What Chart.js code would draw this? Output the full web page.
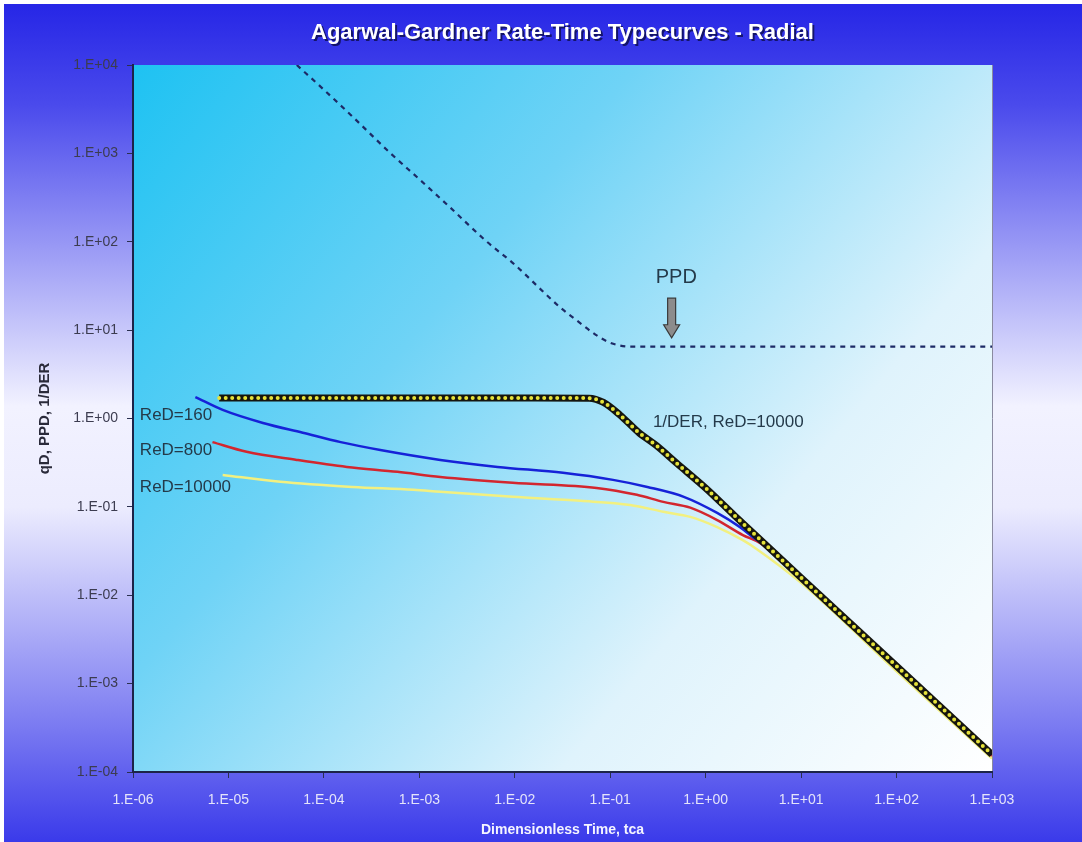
<!DOCTYPE html>
<html>
<head>
<meta charset="utf-8">
<script src="https://cdn.jsdelivr.net/npm/chart.js@4/dist/chart.umd.min.js"></script>
<style>
  body { margin: 0; background: #fff; }
  #wrap { width: 1082px; height: 842px; }
</style>
</head>
<body>
<div id="wrap"><canvas id="typecurves" width="1082" height="842"></canvas></div>
<script>
// values (log-log)
var ppdTime = [5.2e-5, 1e-4, 2e-4, 5e-4, 1e-3, 2e-3, 5e-3, 1e-2, 2e-2, 3e-2, 5e-2, 7e-2, 0.1, 0.16, 0.3, 1, 10, 100, 1000];
var ppdValue = [10000, 5250, 2600, 1000, 510, 257, 102, 55, 27, 18, 11.7, 8.9, 7.2, 6.5, 6.5, 6.5, 6.5, 6.5, 6.5];

var derTime = [8e-6, 1e-5, 1e-4, 1e-3, 1e-2, 6e-2, 8.5e-2, 0.126, 0.2, 0.3, 0.5, 1, 2, 10, 100, 1000];
var derValue = [1.71, 1.71, 1.71, 1.71, 1.71, 1.70, 1.52, 1.1, 0.69, 0.5, 0.31, 0.163, 0.08, 0.0158, 0.00158, 0.000158];

var red160Time = [4.5e-6, 8.7e-6, 2.3e-5, 6e-5, 1.5e-4, 3.9e-4, 1.66e-3, 6.6e-3, 3.2e-2, 0.107, 0.245, 0.59, 1.32, 2.29, 3.47, 4.47, 10, 100, 1000];
var red160Value = [1.75, 1.25, 0.89, 0.69, 0.54, 0.44, 0.34, 0.283, 0.243, 0.202, 0.168, 0.130, 0.0855, 0.059, 0.042, 0.037, 0.0158, 0.00158, 0.000158];

var red800Time = [6.8e-6, 1.55e-5, 5.2e-5, 1.74e-4, 5.9e-4, 1.66e-3, 9.5e-3, 7.2e-2, 0.19, 0.36, 0.69, 1.32, 2.45, 3.7, 10, 100, 1000];
var red800Value = [0.54, 0.42, 0.34, 0.283, 0.249, 0.218, 0.187, 0.164, 0.137, 0.114, 0.098, 0.071, 0.048, 0.039, 0.0152, 0.00152, 0.000152];

var red10000Time = [8.7e-6, 3.5e-5, 2e-4, 8.7e-4, 1.66e-3, 9.5e-3, 4.9e-2, 0.162, 0.36, 0.69, 1.32, 2.45, 3.47, 10, 100, 1000];
var red10000Value = [0.23, 0.192, 0.168, 0.156, 0.148, 0.130, 0.117, 0.105, 0.088, 0.077, 0.059, 0.042, 0.033, 0.0138, 0.00138, 0.000142];

var xTickExp = [-6, -5, -4, -3, -2, -1, 0, 1, 2, 3];
var yTickExp = [-4, -3, -2, -1, 0, 1, 2, 3, 4];

var titleText = 'Agarwal-Gardner Rate-Time Typecurves - Radial';
var xTitle = 'Dimensionless Time, tca';
var yTitle = 'qD, PPD, 1/DER';

// text notes, placed in data units
var notes = [
  { text: 'ReD=160', t: 1.18e-6, v: 1.1, size: 17 },
  { text: 'ReD=800', t: 1.18e-6, v: 0.44, size: 17 },
  { text: 'ReD=10000', t: 1.18e-6, v: 0.168, size: 17 },
  { text: '1/DER, ReD=10000', t: 0.28, v: 0.91, size: 17 },
  { text: 'PPD', t: 0.3, v: 39, size: 20 }
];
var arrowAt = { t: 0.44, from: 23, to: 8.2 };

function pts(xs, ys) {
  return xs.map(function (x, i) { return { x: x, y: ys[i] }; });
}

function expLabel(e) {
  var a = Math.abs(e);
  return '1.E' + (e < 0 ? '-' : '+') + (a < 10 ? '0' : '') + a;
}

var tickFont = { family: "'Liberation Sans', Arial, sans-serif", size: 14 };

var decor = {
  id: 'decor',
  beforeDraw: function (chart) {
    var ctx = chart.ctx, W = chart.width, H = chart.height, a = chart.chartArea;
    ctx.save();
    ctx.fillStyle = '#ffffff';
    ctx.fillRect(0, 0, W, H);
    var g = ctx.createLinearGradient(0, 4, 0, H);
    g.addColorStop(0, '#2626e6');
    g.addColorStop(0.12, '#4a4aec');
    g.addColorStop(0.48, '#f2f2ff');
    g.addColorStop(0.6, '#ececfe');
    g.addColorStop(0.85, '#8080f2');
    g.addColorStop(1, '#3a3aea');
    ctx.fillStyle = g;
    ctx.fillRect(4, 4, W - 4, H - 4);

    var pg = ctx.createLinearGradient(a.left, a.top, a.right, a.bottom);
    pg.addColorStop(0, '#1ec2f2');
    pg.addColorStop(0.35, '#6fd3f6');
    pg.addColorStop(0.7, '#dff3fc');
    pg.addColorStop(1, '#ffffff');
    ctx.fillStyle = pg;
    ctx.fillRect(a.left, a.top, a.right - a.left, a.bottom - a.top);
    ctx.strokeStyle = '#8a8aa0';
    ctx.lineWidth = 1;
    ctx.beginPath();
    ctx.moveTo(a.right + 0.5, a.top);
    ctx.lineTo(a.right + 0.5, a.bottom);
    ctx.stroke();
    ctx.restore();
  },
  afterDraw: function (chart) {
    var ctx = chart.ctx, a = chart.chartArea;
    var xs = chart.scales.x, ys = chart.scales.y;
    ctx.save();

    // title
    ctx.font = "bold 22px 'Liberation Sans', Arial, sans-serif";
    ctx.textAlign = 'center';
    ctx.textBaseline = 'middle';
    ctx.fillStyle = '#14146a';
    ctx.fillText(titleText, (a.left + a.right) / 2 + 2, 35);
    ctx.fillStyle = '#ffffff';
    ctx.fillText(titleText, (a.left + a.right) / 2, 33);

    // axis titles
    ctx.font = "bold 14px 'Liberation Sans', Arial, sans-serif";
    ctx.fillStyle = '#f4f4ff';
    ctx.fillText(xTitle, (a.left + a.right) / 2, 830);
    ctx.save();
    ctx.translate(45, (a.top + a.bottom) / 2);
    ctx.rotate(-Math.PI / 2);
    ctx.font = "bold 15px 'Liberation Sans', Arial, sans-serif";
    ctx.fillStyle = '#2a2a3a';
    ctx.fillText(yTitle, 0, 0);
    ctx.restore();

    // notes
    ctx.textAlign = 'left';
    ctx.fillStyle = '#243a4a';
    notes.forEach(function (n) {
      ctx.font = n.size + "px 'Liberation Sans', Arial, sans-serif";
      ctx.fillText(n.text, xs.getPixelForValue(n.t), ys.getPixelForValue(n.v));
    });

    // PPD arrow
    var ax = xs.getPixelForValue(arrowAt.t);
    var y0 = ys.getPixelForValue(arrowAt.from), y1 = ys.getPixelForValue(arrowAt.to);
    var headH = 13;
    ctx.beginPath();
    ctx.moveTo(ax - 4, y0);
    ctx.lineTo(ax + 4, y0);
    ctx.lineTo(ax + 4, y1 - headH);
    ctx.lineTo(ax + 8, y1 - headH);
    ctx.lineTo(ax, y1);
    ctx.lineTo(ax - 8, y1 - headH);
    ctx.lineTo(ax - 4, y1 - headH);
    ctx.closePath();
    ctx.fillStyle = '#8c8c8c';
    ctx.fill();
    ctx.strokeStyle = '#3a3a3a';
    ctx.lineWidth = 1.2;
    ctx.stroke();
    ctx.restore();
  }
};

var ctx = document.getElementById('typecurves').getContext('2d');
var chart = new Chart(ctx, {
  type: 'line',
  data: {
    datasets: [
      {
        label: '1/DER dots',
        data: pts(derTime, derValue),
        borderColor: '#e6e23a',
        borderWidth: 4,
        borderDash: [0, 6.5],
        borderCapStyle: 'round',
        pointRadius: 0,
        cubicInterpolationMode: 'monotone',
        order: 0
      },
      {
        label: '1/DER',
        data: pts(derTime, derValue),
        borderColor: '#15150f',
        borderWidth: 7,
        pointRadius: 0,
        cubicInterpolationMode: 'monotone',
        order: 1
      },
      {
        label: 'PPD',
        data: pts(ppdTime, ppdValue),
        borderColor: '#1d2a66',
        borderWidth: 2.2,
        borderDash: [5, 5],
        pointRadius: 0,
        cubicInterpolationMode: 'monotone',
        order: 2
      },
      {
        label: 'ReD=160',
        data: pts(red160Time, red160Value),
        borderColor: '#1622d8',
        borderWidth: 2.5,
        pointRadius: 0,
        cubicInterpolationMode: 'monotone',
        order: 3
      },
      {
        label: 'ReD=800',
        data: pts(red800Time, red800Value),
        borderColor: '#d3262e',
        borderWidth: 2.5,
        pointRadius: 0,
        cubicInterpolationMode: 'monotone',
        order: 4
      },
      {
        label: 'ReD=10000',
        data: pts(red10000Time, red10000Value),
        borderColor: '#f2f080',
        borderWidth: 2.5,
        pointRadius: 0,
        cubicInterpolationMode: 'monotone',
        order: 5
      }
    ]
  },
  options: {
    responsive: false,
    animation: false,
    layout: { padding: { top: 65, right: 90, left: 0, bottom: 0 } },
    plugins: {
      legend: { display: false },
      tooltip: { enabled: false },
      title: { display: false }
    },
    scales: {
      x: {
        type: 'logarithmic',
        min: 1e-6,
        max: 1e3,
        afterBuildTicks: function (s) {
          s.ticks = xTickExp.map(function (e) { return { value: Math.pow(10, e) }; });
        },
        afterFit: function (s) { s.height = 70; },
        ticks: {
          autoSkip: false,
          maxRotation: 0,
          padding: 14,
          color: '#e4e4fa',
          font: tickFont,
          callback: function (v) { return expLabel(Math.round(Math.log10(v))); }
        },
        grid: { display: true, drawOnChartArea: false, drawTicks: true, tickLength: 6, color: '#2a3050' },
        border: { display: true, color: '#1c2448', width: 2 }
      },
      y: {
        type: 'logarithmic',
        min: 1e-4,
        max: 1e4,
        afterBuildTicks: function (s) {
          s.ticks = yTickExp.map(function (e) { return { value: Math.pow(10, e) }; });
        },
        afterFit: function (s) { s.width = 133; },
        ticks: {
          autoSkip: false,
          padding: 9,
          color: '#3c3c50',
          font: tickFont,
          callback: function (v) { return expLabel(Math.round(Math.log10(v))); }
        },
        grid: { display: true, drawOnChartArea: false, drawTicks: true, tickLength: 6, color: '#2a3050' },
        border: { display: true, color: '#1c2448', width: 2 }
      }
    }
  },
  plugins: [decor]
});
</script>
</body>
</html>
